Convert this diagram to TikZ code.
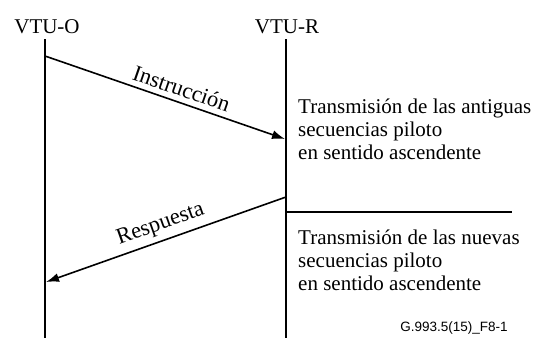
\documentclass[tikz,border=0pt]{standalone}
\usepackage{fontspec}
\setmainfont{Liberation Serif}
\newfontfamily\refont{Liberation Sans}
\usetikzlibrary{arrows.meta}

\tikzset{
  vida/.style={line width=1.1pt},
  mensaje/.style={line width=1.6pt,-{Latex[length=13pt,width=9pt]}},
  etiqueta/.style={font=\fontsize{21}{24}\selectfont},
  msjtexto/.style={font=\fontsize{22.5}{24}\selectfont},
  estado/.style={font=\fontsize{21}{22.8}\selectfont,align=left,anchor=north west,inner sep=0pt}
}

\begin{document}
\begin{tikzpicture}[x=1pt,y=-1pt]
        \useasboundingbox (0,0) rectangle (554,338);

        % Paso 1: Define los extremos de las lineas de vida
        \coordinate (Oarriba) at (45,39);
        \coordinate (Oabajo) at (45,338);
        \coordinate (Rarriba) at (286,39);
        \coordinate (Rabajo) at (286,338);

        % Paso 2: Nombres de las unidades
        \node[etiqueta,anchor=base] (vtuo) at (47,33) {VTU-O};
        \node[etiqueta,anchor=base] (vtur) at (287,33) {VTU-R};

        % Paso 3: Dibuja las lineas de vida
        \draw[vida] (Oarriba) -- (Oabajo);
        \draw[vida] (Rarriba) -- (Rabajo);

        % Paso 4: Mensajes entre unidades
        \coordinate (Oinst) at (45,56);
        \coordinate (Rinst) at (285,139);
        \coordinate (Rresp) at (286,197);
        \coordinate (Oresp) at (46,282);
        \draw[mensaje] (Oinst) -- node[msjtexto,pos=0.55,above=2pt,sloped] (inst) {Instrucción} (Rinst);
        \draw[mensaje] (Rresp) -- node[msjtexto,pos=0.5,above=2pt,sloped] (resp) {Respuesta} (Oresp);

        % Paso 5: Separador de estados
        \coordinate (sep) at (512,212);
        \draw[vida] (Rresp |- sep) -- (sep);

        % Paso 6: Estados de VTU-R
        \node[estado] (antiguas) at (298,99) {Transmisión de las antiguas\\secuencias piloto\\en sentido ascendente};
        \node[estado] (nuevas) at (298,230) {Transmisión de las nuevas\\secuencias piloto\\en sentido ascendente};

        % Paso 7: Referencia de la figura
        \node[font=\refont\fontsize{13.5}{16}\selectfont] (ref) at (454,328) {G.993.5(15)\_F8-1};
    \end{tikzpicture}
\end{document}
